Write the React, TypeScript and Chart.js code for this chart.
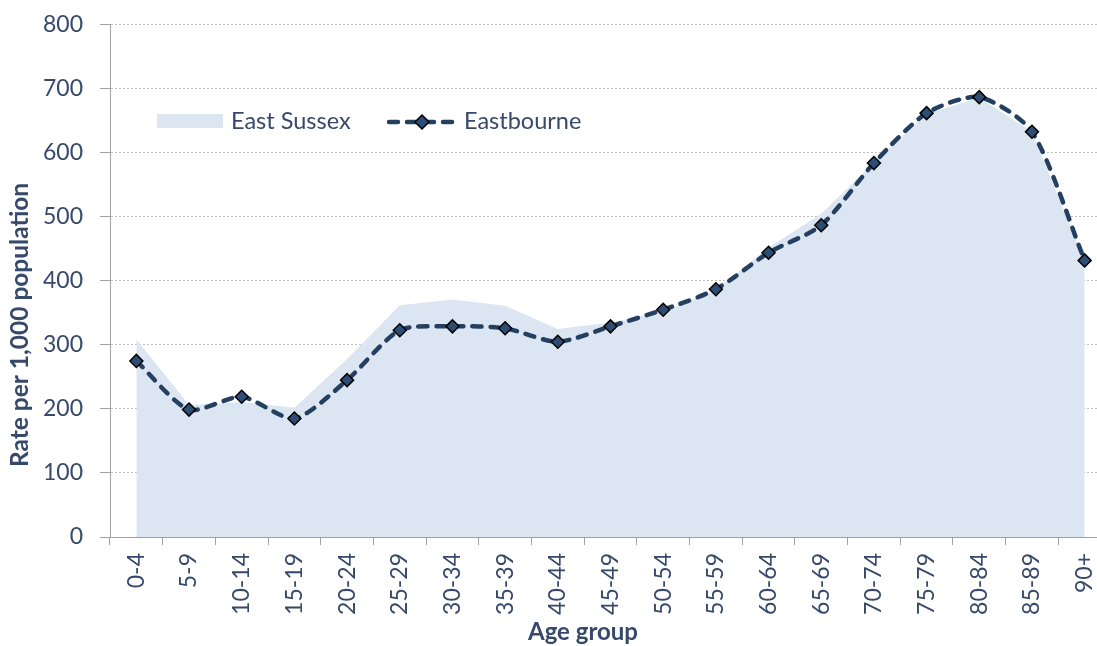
import React, { useEffect, useRef } from "react";
import { Chart, registerables } from "chart.js";

Chart.register(...registerables);

const categories = ["0-4", "5-9", "10-14", "15-19", "20-24", "25-29", "30-34", "35-39", "40-44", "45-49", "50-54", "55-59", "60-64", "65-69", "70-74", "75-79", "80-84", "85-89", "90+"];
const eastbourne = [275, 199, 219, 185, 245, 323, 329, 326, 305, 329, 355, 387, 444, 487, 584, 662, 687, 633, 432];
const eastSussex = [309, 206, 211, 202, 278, 362, 371, 361, 325, 335, 352, 386, 452, 505, 585, 661, 686, 633, 430];
const yTicks = [0, 100, 200, 300, 400, 500, 600, 700, 800];

const TEXT = "#36496A";
const LINE = "#243F60";
const MARKER = "#2C4E76";
const AREA = "#DCE6F2";
const FONT = "Lato";
const DASH = [9, 9];
const SHIFT = 6; // canvas is moved up by this many pixels

const overlayPlugin = {
  id: "overlay",
  afterDraw(chart: any) {
    const ctx = chart.ctx;
    ctx.save();
    ctx.translate(0, SHIFT);
    // legend
    ctx.fillStyle = AREA;
    ctx.fillRect(157, 114, 66, 14);
    ctx.fillStyle = TEXT;
    ctx.font = `23.5px ${FONT}`;
    ctx.textBaseline = "middle";
    ctx.textAlign = "left";
    ctx.fillText("East Sussex", 231, 121);
    ctx.strokeStyle = LINE;
    ctx.lineWidth = 4.5;
    ctx.lineCap = "round";
    ctx.setLineDash(DASH);
    ctx.beginPath();
    ctx.moveTo(389, 122);
    ctx.lineTo(457, 122);
    ctx.stroke();
    ctx.setLineDash([]);
    ctx.beginPath();
    ctx.moveTo(422, 115);
    ctx.lineTo(429, 122);
    ctx.lineTo(422, 129);
    ctx.lineTo(415, 122);
    ctx.closePath();
    ctx.fillStyle = MARKER;
    ctx.fill();
    ctx.lineWidth = 1.5;
    ctx.strokeStyle = "#000";
    ctx.stroke();
    ctx.fillStyle = TEXT;
    ctx.fillText("Eastbourne", 464, 121);
    // x title
    ctx.font = `bold 24px ${FONT}`;
    ctx.textAlign = "center";
    ctx.fillText("Age group", 583, 632);
    // y title
    ctx.translate(20, 325);
    ctx.rotate(-Math.PI / 2);
    ctx.font = `bold 24.5px ${FONT}`;
    ctx.textAlign = "center";
    ctx.fillText("Rate per 1,000 population", 0, 0);
    ctx.restore();
  },
};

export default function App() {
  const ref = useRef<HTMLCanvasElement | null>(null);
  useEffect(() => {
    if (!ref.current) return;
    const chart = new Chart(ref.current, {
      type: "line",
      data: {
        labels: categories,
        datasets: [
          {
            label: "Eastbourne",
            data: eastbourne,
            borderColor: LINE,
            borderWidth: 4.5,
            borderDash: DASH,
            borderCapStyle: "round",
            tension: 0.25,
            fill: false,
            pointStyle: "rectRot",
            pointRadius: 6.5,
            pointBackgroundColor: MARKER,
            pointBorderColor: "#000",
            pointBorderWidth: 1.5,
            order: 0,
          },
          {
            label: "East Sussex",
            data: eastSussex,
            borderWidth: 0,
            borderColor: AREA,
            backgroundColor: AREA,
            fill: "origin",
            tension: 0,
            pointRadius: 0,
            order: 1,
          },
        ],
      },
      options: {
        animation: false,
        responsive: false,
        devicePixelRatio: 1,
        layout: { padding: { left: 0, right: 14, top: 19, bottom: 0 } },
        plugins: { legend: { display: false }, tooltip: { enabled: false } },
        scales: {
          x: {
            type: "category",
            offset: true,
            grid: {
              display: true,
              drawOnChartArea: false,
              offset: true,
              tickLength: 8,
              color: "#A0A0A0",
            },
            border: { display: true, color: "#A0A0A0", width: 1 },
            ticks: {
              color: TEXT,
              font: { family: FONT, size: 23 },
              minRotation: 90,
              maxRotation: 90,
              padding: 8,
              autoSkip: false,
            },
            title: { display: false, text: "Age group" },
            afterFit: (scale: any) => {
              scale.height = 109;
            },
          },
          y: {
            min: 0,
            max: 800,
            afterBuildTicks: (scale: any) => {
              scale.ticks = yTicks.map((v) => ({ value: v }));
            },
            grid: {
              color: "#BDBDBD",
              tickBorderDash: [],
              tickColor: "#A0A0A0",
              tickLength: 10,
              lineWidth: 1,
            },
            border: { display: true, color: "#A0A0A0", width: 1, dash: [2, 2] },
            ticks: {
              color: TEXT,
              font: { family: FONT, size: 23 },
              padding: 17,
            },
            title: { display: false, text: "Rate per 1,000 population" },
            afterFit: (scale: any) => {
              scale.width = 110;
            },
          },
        },
      },
      plugins: [overlayPlugin],
    } as any);
    return () => chart.destroy();
  }, []);
  return (
    <div style={{ position: "fixed", left: 0, top: 0, width: 1097, height: 646, overflow: "hidden", background: "#fff" }}>
      <canvas
        ref={ref}
        width={1125}
        height={646 + SHIFT}
        style={{ display: "block", width: 1125, height: 646 + SHIFT, marginTop: -SHIFT }}
      />
    </div>
  );
}
